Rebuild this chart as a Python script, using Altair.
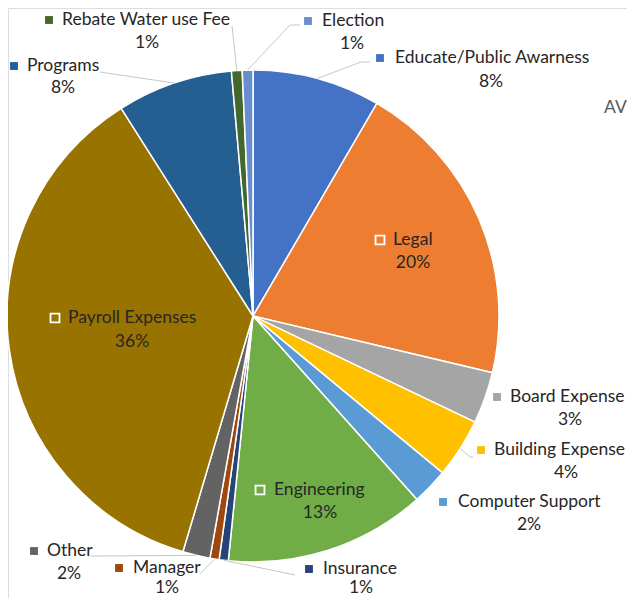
import math
import altair as alt
import pandas as pd

# ---------------- data ----------------
categories = ["Educate/Public Awarness", "Legal", "Board Expense", "Building Expense",
              "Computer Support", "Engineering", "Insurance", "Manager", "Other",
              "Payroll Expenses", "Programs", "Rebate Water use Fee", "Election"]
values = [8.4, 20.3, 3.4, 3.9, 2.4, 13.2, 0.6, 0.6, 1.8, 36.4, 7.6, 0.7, 0.7]
colors = ["#4472C4", "#ED7D31", "#A5A5A5", "#FFC000", "#5B9BD5", "#70AD47",
          "#264478", "#9E480E", "#636363", "#997300", "#255E91", "#43682B", "#698ED0"]

# ---------------- layout (image pixel coords) ----------------
OFF = 8
CX, CY, R = 253, 316, 246
# square x, text-left x, name y, percent centre x, percent y, inside-label flag
label_layout = {
    "Educate/Public Awarness": (380, 395, 58, 491, 82, False),
    "Legal": (380, 393, 240, 413, 263, True),
    "Board Expense": (497, 510, 397, 570, 420, False),
    "Building Expense": (481, 494, 450, 566, 473, False),
    "Computer Support": (443, 458, 502, 529, 525, False),
    "Engineering": (260, 274, 490, 320, 513, True),
    "Insurance": (309, 323, 569, 361, 588, False),
    "Manager": (119, 133, 568, 167, 588, False),
    "Other": (34, 47, 551, 69, 574, False),
    "Payroll Expenses": (55, 68, 318, 132, 342, True),
    "Programs": (14, 27, 66, 63, 88, False),
    "Rebate Water use Fee": (49, 62, 20, 147, 43, False),
    "Election": (308, 322, 21, 352, 44, False),
}
# leader line points starting near the label (end point is the slice edge)
leaders = {
    "Educate/Public Awarness": [(370, 62), (361, 62)],
    "Election": [(300, 25), (290, 25)],
    "Rebate Water use Fee": [(232, 26)],
    "Programs": [(100, 72)],
    "Building Expense": [(473, 457), (470, 457)],
    "Other": [(90, 556)],
    "Manager": [(200, 574)],
    "Insurance": [(295, 575)],
}

total = sum(values)
pie_df = pd.DataFrame({"category": categories, "value": values,
                       "order": list(range(len(categories)))})

# slice mid-angle edge points
mid_pts = {}
acc = 0.0
for c, v in zip(categories, values):
    a = (acc + v / 2) / total * 2 * math.pi
    mid_pts[c] = (CX + R * math.sin(a), CY - R * math.cos(a))
    acc += v

rows_line = []
for c, pts in leaders.items():
    allp = pts + [mid_pts[c]]
    for i, (px, py) in enumerate(allp):
        rows_line.append({"category": c, "seq": i, "x": px - OFF, "y": py - OFF})
line_df = pd.DataFrame(rows_line)

rows_lab = []
for c, v in zip(categories, values):
    sx, tx, ny, pcx, py, inside = label_layout[c]
    rows_lab.append({"category": c, "sx": sx - OFF, "tx": tx - OFF, "ny": ny - OFF,
                     "pcx": pcx - OFF, "py": py - OFF, "inside": inside,
                     "pct": f"{round(v / total * 100)}%"})
lab_df = pd.DataFrame(rows_lab)

color_scale = alt.Scale(domain=categories, range=colors)
FONT = "Lato"
FS = 17.5
TXT = "#262626"

pie = alt.Chart(pie_df).mark_arc(radius=R, stroke="white", strokeWidth=1.5).encode(
    theta=alt.Theta("value:Q", stack=True),
    order=alt.Order("order:Q"),
    color=alt.Color("category:N", scale=color_scale, legend=None),
    x=alt.value(CX - OFF), y=alt.value(CY - OFF),
)

lines = alt.Chart(line_df).mark_line(color="#BFBFBF", strokeWidth=0.9).encode(
    x=alt.X("x:Q", scale=None), y=alt.Y("y:Q", scale=None),
    detail="category:N", order="seq:Q",
)

sq_out = alt.Chart(lab_df).transform_filter("!datum.inside").mark_point(
    shape="square", filled=True, size=62, opacity=1).encode(
    x=alt.X("sx:Q", scale=None), y=alt.Y("ny:Q", scale=None),
    color=alt.Color("category:N", scale=color_scale, legend=None),
)
sq_in = alt.Chart(lab_df).transform_filter("datum.inside").mark_point(
    shape="square", filled=True, size=80, opacity=1, stroke="white", strokeWidth=1.8).encode(
    x=alt.X("sx:Q", scale=None), y=alt.Y("ny:Q", scale=None),
    fill=alt.Fill("category:N", scale=color_scale, legend=None),
)

names = alt.Chart(lab_df).mark_text(align="left", baseline="middle", font=FONT,
                                    fontSize=FS, color=TXT).encode(
    x=alt.X("tx:Q", scale=None), y=alt.Y("ny:Q", scale=None), text="category:N",
)
pcts = alt.Chart(lab_df).mark_text(align="center", baseline="middle", font=FONT,
                                   fontSize=FS, color=TXT).encode(
    x=alt.X("pcx:Q", scale=None), y=alt.Y("py:Q", scale=None), text="pct:N",
)

title_df = pd.DataFrame({"t": ["AV"], "x": [604 - OFF], "y": [108 - OFF]})
title = alt.Chart(title_df).mark_text(align="left", baseline="middle", font=FONT,
                                      fontSize=FS, color="#595959").encode(
    x=alt.X("x:Q", scale=None), y=alt.Y("y:Q", scale=None), text="t:N",
)

chart = alt.layer(pie, lines, sq_out, sq_in, names, pcts, title).properties(
    width=619, height=590, padding=0,
    autosize=alt.AutoSizeParams(type="none"),
).configure_view(stroke=None).configure(background="white")

chart.save("out.html", embed_options={"renderer": "svg", "actions": False})
